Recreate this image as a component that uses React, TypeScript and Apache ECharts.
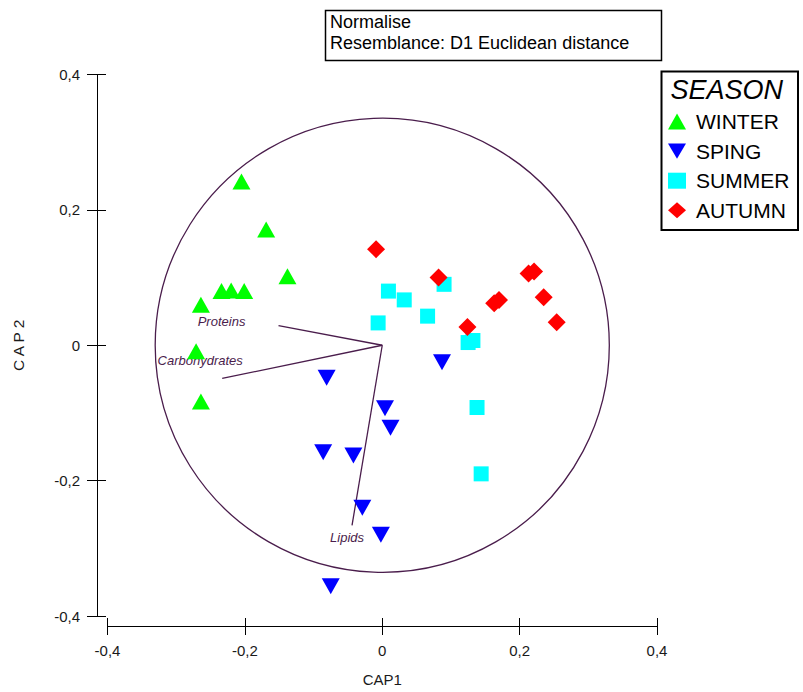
import React, { useEffect, useRef } from 'react';
import * as echarts from 'echarts';

// ---- data ----
const seasonNames = ['WINTER', 'SPING', 'SUMMER', 'AUTUMN'];

const winterX = [-0.205, -0.169, -0.138, -0.234, -0.220, -0.201, -0.264, -0.271, -0.264];
const winterY = [0.242, 0.171, 0.102, 0.080, 0.081, 0.080, 0.060, -0.009, -0.083];

const springX = [-0.081, 0.087, 0.004, 0.012, -0.086, -0.042, -0.029, -0.002, -0.075];
const springY = [-0.048, -0.025, -0.093, -0.122, -0.158, -0.163, -0.240, -0.280, -0.356];

const summerX = [0.009, 0.032, -0.006, 0.066, 0.090, 0.125, 0.132, 0.138, 0.144];
const summerY = [0.080, 0.067, 0.033, 0.043, 0.090, 0.004, 0.007, -0.092, -0.190];

const autumnX = [-0.009, 0.082, 0.124, 0.163, 0.170, 0.213, 0.221, 0.235, 0.254];
const autumnY = [0.142, 0.100, 0.027, 0.062, 0.067, 0.106, 0.109, 0.071, 0.034];

const vectorNames = ['Proteins', 'Carbohydrates', 'Lipids'];
const vectorX = [-0.151, -0.233, -0.044];
const vectorY = [0.029, -0.049, -0.266];

const circleRadius = 0.333;

const axisMin = -0.4;
const axisMax = 0.4;
const axisStep = 0.2;

const titleLines = ['Normalise', 'Resemblance: D1 Euclidean distance'];
const legendTitle = 'SEASON';

// ---- styles ----
const FONT = '"Liberation Sans", Arial, sans-serif';
const PURPLE = '#4a1d4c';
const vectorLabelOffsets = [
  [-57, -4],
  [-22, -18],
  [-5, 12],
];
const invTriangle = 'path://M0,0 L20,0 L10,17 Z';

const fmt = (v: number) =>
  Math.abs(v) < 1e-9 ? '0' : v.toFixed(1).replace('.', ',');

const zip = (xs: number[], ys: number[]) => xs.map((x, i) => [x, ys[i]]);

export default function App() {
  const ref = useRef<HTMLDivElement>(null);

  useEffect(() => {
    if (!ref.current) return;
    const chart = echarts.init(ref.current, undefined, { renderer: 'svg' });

    const baseAxis = {
      type: 'value',
      min: axisMin,
      max: axisMax,
      interval: axisStep,
      splitLine: { show: false },
    };

    const option: any = {
      animation: false,
      backgroundColor: '#ffffff',
      grid: { left: 107.5, right: 146, top: 74.5, bottom: 68.5, containLabel: false },
      xAxis: [
        {
          ...baseAxis,
          position: 'bottom',
          offset: 10,
          axisLine: { show: true, onZero: false, lineStyle: { color: '#000', width: 1 } },
          axisTick: { show: true, inside: false, length: 9, lineStyle: { color: '#000' } },
          axisLabel: { margin: 17, fontSize: 15, color: '#1a1a1a', fontFamily: FONT, formatter: fmt },
          name: 'CAP1',
          nameLocation: 'middle',
          nameGap: 46,
          nameTextStyle: { fontSize: 15, color: '#1a1a1a', fontFamily: FONT },
        },
        {
          ...baseAxis,
          position: 'bottom',
          offset: 10,
          axisLine: { show: false, onZero: false },
          axisTick: { show: true, inside: true, length: 8, lineStyle: { color: '#000' } },
          axisLabel: { show: false },
        },
      ],
      yAxis: [
        {
          ...baseAxis,
          position: 'left',
          offset: 10.5,
          axisLine: { show: true, onZero: false, lineStyle: { color: '#000', width: 1 } },
          axisTick: { show: true, inside: false, length: 10, lineStyle: { color: '#000' } },
          axisLabel: { margin: 17, fontSize: 15, color: '#1a1a1a', fontFamily: FONT, formatter: fmt },
          name: 'C A P 2',
          nameLocation: 'middle',
          nameGap: 71,
          nameTextStyle: { fontSize: 15.5, color: '#1a1a1a', fontFamily: FONT },
        },
        {
          ...baseAxis,
          position: 'left',
          offset: 10.5,
          axisLine: { show: false, onZero: false },
          axisTick: { show: true, inside: true, length: 9, lineStyle: { color: '#000' } },
          axisLabel: { show: false },
        },
      ],
      legend: {
        orient: 'vertical',
        left: 668,
        top: 110.5,
        padding: 0,
        itemWidth: 18,
        itemHeight: 16,
        itemGap: 7.6,
        textStyle: {
          fontSize: 21,
          lineHeight: 22,
          color: '#000',
          fontFamily: FONT,
          padding: [0, 0, 0, 5],
        },
        data: [
          { name: seasonNames[0], icon: 'triangle' },
          { name: seasonNames[1], icon: invTriangle },
          { name: seasonNames[2], icon: 'rect' },
          { name: seasonNames[3], icon: 'diamond' },
        ],
      },
      graphic: [
        {
          type: 'rect',
          shape: { x: 325.5, y: 10.5, width: 336, height: 50 },
          style: { fill: '#fff', stroke: '#000', lineWidth: 1.5 },
        },
        {
          type: 'text',
          x: 330,
          y: 11,
          style: {
            text: titleLines.join('\n'),
            fontSize: 18,
            lineHeight: 21,
            fontFamily: FONT,
            fill: '#000',
            verticalAlign: 'top',
          },
        },
        {
          type: 'rect',
          z: -1,
          shape: { x: 661.5, y: 71.5, width: 136.5, height: 158.5 },
          style: { fill: '#fff', stroke: '#000', lineWidth: 2 },
        },
        {
          type: 'text',
          x: 670.5,
          y: 90,
          style: {
            text: legendTitle,
            fontSize: 27,
            fontStyle: 'italic',
            fontFamily: FONT,
            fill: '#000',
            verticalAlign: 'middle',
          },
        },
      ],
      series: [
        {
          type: 'custom',
          name: 'circle',
          silent: true,
          data: [[0, 0]],
          renderItem: (params: any, api: any) => {
            const c = api.coord([api.value(0), api.value(1)]);
            const s = api.size([circleRadius, circleRadius]);
            const r = (s[0] + s[1]) / 2;
            return {
              type: 'circle',
              shape: { cx: c[0], cy: c[1], r },
              style: { fill: 'none', stroke: PURPLE, lineWidth: 1.3 },
            };
          },
          z: 1,
        },
        {
          type: 'custom',
          name: 'vectors',
          silent: true,
          data: zip(vectorX, vectorY),
          renderItem: (params: any, api: any) => {
            const o = api.coord([0, 0]);
            const e = api.coord([api.value(0), api.value(1)]);
            const off = vectorLabelOffsets[params.dataIndex];
            return {
              type: 'group',
              children: [
                {
                  type: 'line',
                  shape: { x1: o[0], y1: o[1], x2: e[0], y2: e[1] },
                  style: { stroke: PURPLE, lineWidth: 1.3 },
                },
                {
                  type: 'text',
                  x: e[0] + off[0],
                  y: e[1] + off[1],
                  style: {
                    text: vectorNames[params.dataIndex],
                    fill: PURPLE,
                    fontSize: 13,
                    fontStyle: 'italic',
                    fontFamily: FONT,
                    align: 'center',
                    verticalAlign: 'middle',
                  },
                },
              ],
            };
          },
          z: 2,
        },
        {
          type: 'scatter',
          name: seasonNames[0],
          symbol: 'triangle',
          symbolSize: [18, 16],
          itemStyle: { color: '#00ff00', opacity: 1 },
          data: zip(winterX, winterY),
          z: 3,
        },
        {
          type: 'scatter',
          name: seasonNames[1],
          symbol: invTriangle,
          symbolSize: [18, 16],
          symbolKeepAspect: false,
          itemStyle: { color: '#0000ff', opacity: 1 },
          data: zip(springX, springY),
          z: 3,
        },
        {
          type: 'scatter',
          name: seasonNames[2],
          symbol: 'rect',
          symbolSize: 15,
          itemStyle: { color: '#00ffff', opacity: 1 },
          data: zip(summerX, summerY),
          z: 3,
        },
        {
          type: 'scatter',
          name: seasonNames[3],
          symbol: 'diamond',
          symbolSize: 18,
          itemStyle: { color: '#ff0000', opacity: 1 },
          data: zip(autumnX, autumnY),
          z: 3,
        },
      ],
    };

    chart.setOption(option);
    return () => chart.dispose();
  }, []);

  return (
    <div
      ref={ref}
      style={{ position: 'fixed', left: 0, top: 0, width: 803, height: 692, background: '#fff' }}
    />
  );
}
